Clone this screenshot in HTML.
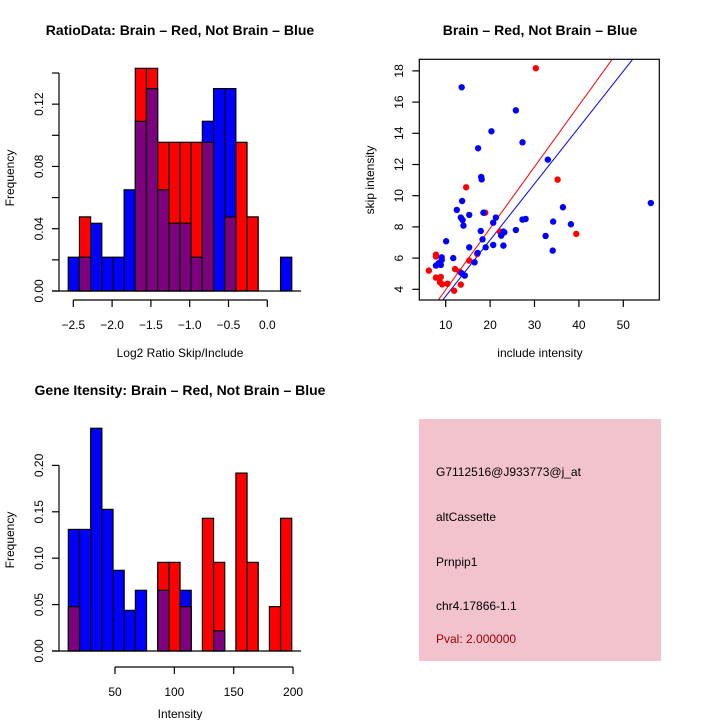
<!DOCTYPE html>
<html><head><meta charset="utf-8"><style>
html,body{margin:0;padding:0;background:#fff;}
svg{display:block;font-family:"Liberation Sans",sans-serif;}
</style></head><body>
<svg id="c" width="720" height="720" viewBox="0 0 720 720">
<rect width="720" height="720" fill="#fff"/>
<g id="h1"></g>
<g id="sc"></g>
<g id="h2"></g>
<g>
<rect x="419" y="419" width="242" height="242" fill="#f2c2cd"/>
<text x="436" y="476" font-size="12" fill="#000">G7112516@J933773@j_at</text>
<text x="436" y="521" font-size="12" fill="#000">altCassette</text>
<text x="436" y="566" font-size="12" fill="#000">Prnpip1</text>
<text x="436" y="610" font-size="12" fill="#000">chr4.17866-1.1</text>
<text x="436" y="643" font-size="12" fill="#a00000">Pval: 2.000000</text>
</g>
</svg>
<script>
// Histogram 1: Log2 ratio
const h1Start = -2.565, h1Width = 0.144;
const h1Blue = [0.0217,0.0217,0.0435,0.0217,0.0217,0.065,0.109,0.130,0.065,0.0435,0.0435,0.0217,0.109,0.130,0.130,0,0,0,0,0.0217];
const h1Red  = [0,0.0476,0,0,0,0,0.143,0.143,0.0955,0.0955,0.0955,0.0955,0.0955,0,0.0476,0.0955,0.0476,0,0,0];
const h1XTicks = [-2.5,-2.0,-1.5,-1.0,-0.5,0.0];
const h1XLabels = ["\u22122.5","\u22122.0","\u22121.5","\u22121.0","\u22120.5","0.0"];
const h1YTicks = [0,0.02,0.04,0.06,0.08,0.10,0.12,0.14];
const h1YLabels = ["0.00","","0.04","","0.08","","0.12",""];
// Histogram 2: intensity
const h2Start = 10.7, h2Width = 9.41;
const h2Blue = [0.131,0.131,0.24,0.1526,0.0869,0.0438,0.0654,0,0.0654,0,0.0654,0,0,0.0217,0,0,0,0,0,0];
const h2Red  = [0.0478,0,0,0,0,0,0,0,0.0955,0.0955,0.0478,0,0.143,0.0955,0,0.1917,0.0955,0,0.0478,0.143];
const h2XTicks = [50,100,150,200];
const h2XLabels = ["50","100","150","200"];
const h2YTicks = [0,0.05,0.10,0.15,0.20];
const h2YLabels = ["0.00","0.05","0.10","0.15","0.20"];
// Scatter
const blueX = [13.6,25.8,20.3,27.3,17.3,33.0,18.0,18.1,13.7,56.2,12.5,36.4,15.3,18.5,13.4,13.8,14.0,21.3,20.7,27.3,28.0,34.2,38.2,17.9,25.8,23.0,22.5,23.2,18.3,32.5,10.1,15.3,19.0,20.7,23.0,34.1,11.7,9.1,9.1,8.4,7.8,8.9,17.2,16.5,13.6,14.3];
const blueY = [16.95,15.47,14.13,13.42,13.04,12.31,11.2,11.05,9.66,9.53,9.09,9.26,8.77,8.91,8.6,8.44,8.08,8.6,8.27,8.47,8.51,8.34,8.17,7.74,7.8,7.7,7.44,7.65,7.2,7.42,7.08,6.69,6.69,6.84,6.8,6.48,6.0,6.05,5.88,5.67,5.52,5.56,6.33,5.73,5.03,4.88];
const redX = [30.3,35.2,14.6,18.9,39.4,22.2,7.8,7.8,6.2,15.3,17.1,12.1,13.1,7.8,8.9,8.7,9.2,10.4,13.4,11.9];
const redY = [18.17,11.03,10.54,8.91,7.55,7.7,6.22,6.1,5.2,5.84,6.26,5.3,5.13,4.75,4.79,4.45,4.32,4.36,4.3,3.91];
const fitSlopes = [0.394,0.3606];
const fitIntercepts = [0.03,-0.05];
const fitColors = ["#ff0000","#0000ff"];
const scXTicks = [10,20,30,40,50];
const scYTicks = [4,6,8,10,12,14,16,18];

const NS="http://www.w3.org/2000/svg";
function mk(p,t,a){const e=document.createElementNS(NS,t);for(const k in a)e.setAttribute(k,a[k]);p.appendChild(e);return e;}

function hist(g,o){
  const sx=v=>o.x0+(v-o.v0)*o.kx, sy=v=>o.y0-v*o.ky;
  for(let i=0;i<o.blue.length;i++){
    const a=o.start+i*o.width, b=a+o.width;
    const bl=o.blue[i], rd=o.red[i];
    const mx=Math.max(bl,rd), mn=Math.min(bl,rd);
    if(mx>0){
      const r=mk(g,'rect',{x:sx(a),y:sy(mx),width:sx(b)-sx(a),height:sy(0)-sy(mx),fill:bl>=rd?'#0000ff':'#ff0000',stroke:'#000','stroke-width':1.2});
      
      
    }
    if(mn>0){
      const r=mk(g,'rect',{x:sx(a),y:sy(mn),width:sx(b)-sx(a),height:sy(0)-sy(mn),fill:'#7f007f',stroke:'#000','stroke-width':1.2});
      
      
    }
  }
  mk(g,'line',{x1:52,x2:301,y1:o.y0,y2:o.y0,stroke:'#000','stroke-width':1.3});
  // y axis
  const yt=o.yTicks;
  mk(g,'line',{x1:59,x2:59,y1:sy(yt[0]),y2:sy(yt[yt.length-1]),stroke:'#000','stroke-width':1.2});
  yt.forEach((v,i)=>{
    mk(g,'line',{x1:52,x2:59,y1:sy(v),y2:sy(v),stroke:'#000','stroke-width':1.2});
    if(o.yLabels[i]){const t=mk(g,'text',{x:0,y:0,'font-size':12,'text-anchor':'middle',transform:`translate(43,${sy(v)}) rotate(-90)`});t.textContent=o.yLabels[i];
      }
  });
  const xt=o.xTicks;
  mk(g,'line',{x1:sx(xt[0]),x2:sx(xt[xt.length-1]),y1:o.ax,y2:o.ax,stroke:'#000','stroke-width':1.2});
  xt.forEach((v,i)=>{
    mk(g,'line',{x1:sx(v),x2:sx(v),y1:o.ax,y2:o.ax+7,stroke:'#000','stroke-width':1.2});
    const t=mk(g,'text',{x:sx(v),y:o.ax+29,'font-size':12,'text-anchor':'middle'});t.textContent=o.xLabels[i];
    
  });
  let t=mk(g,'text',{x:180,y:o.titleY,'font-size':14,'font-weight':'bold','text-anchor':'middle'});t.textContent=o.title;
  
  t=mk(g,'text',{x:180,y:o.xlabY,'font-size':12,'text-anchor':'middle'});t.textContent=o.xlab;
  
  t=mk(g,'text',{x:0,y:0,'font-size':12,'text-anchor':'middle',transform:`translate(14,${o.yLabCy}) rotate(-90)`});t.textContent='Frequency';
  
}

hist(document.getElementById('h1'),{start:h1Start,width:h1Width,blue:h1Blue,red:h1Red,x0:73.3,v0:-2.5,kx:77.6,y0:291,ky:1557,ax:300,
  xTicks:h1XTicks,xLabels:h1XLabels,yTicks:h1YTicks,yLabels:h1YLabels,title:'RatioData: Brain \u2013 Red, Not Brain \u2013 Blue',titleY:35,xlab:'Log2 Ratio Skip/Include',xlabY:357,yLabCy:178});
hist(document.getElementById('h2'),{start:h2Start,width:h2Width,blue:h2Blue,red:h2Red,x0:115,v0:50,kx:1.187,y0:651,ky:928,ax:667,
  xTicks:h2XTicks,xLabels:h2XLabels,yTicks:h2YTicks,yLabels:h2YLabels,title:'Gene Itensity: Brain \u2013 Red, Not Brain \u2013 Blue',titleY:395,xlab:'Intensity',xlabY:718,yLabCy:540});

(function(){
  const g=document.getElementById('sc');
  const L=419.3,R=659.3,T=59.3,B=300;
  const sx=v=>445.7+(v-10)*4.44, sy=v=>289.3-(v-4)*15.6;
  const defs=mk(g,'defs',{});const cp=mk(defs,'clipPath',{id:'scclip'});mk(cp,'rect',{x:L,y:T,width:R-L,height:B-T});
  const inner=mk(g,'g',{'clip-path':'url(#scclip)'});
  fitSlopes.forEach((s,i)=>{
    const x1=0,x2=70;
    const l=mk(inner,'line',{x1:sx(x1),y1:sy(fitIntercepts[i]+s*x1),x2:sx(x2),y2:sy(fitIntercepts[i]+s*x2),stroke:fitColors[i],'stroke-width':1});
    
    
  });
  redX.forEach((x,i)=>{const c=mk(inner,'circle',{cx:sx(x),cy:sy(redY[i]),r:3.2,fill:'#ff0000'});
    });
  blueX.forEach((x,i)=>{const c=mk(inner,'circle',{cx:sx(x),cy:sy(blueY[i]),r:3.2,fill:'#0000ff'});
    });
  mk(g,'rect',{x:L,y:T,width:R-L,height:B-T,fill:'none',stroke:'#000','stroke-width':1.2});
  scXTicks.forEach(v=>{
    mk(g,'line',{x1:sx(v),x2:sx(v),y1:B,y2:B+7,stroke:'#000','stroke-width':1.2});
    const t=mk(g,'text',{x:sx(v),y:B+29,'font-size':12,'text-anchor':'middle'});t.textContent=v;
    
  });
  scYTicks.forEach(v=>{
    mk(g,'line',{x1:L-7,x2:L,y1:sy(v),y2:sy(v),stroke:'#000','stroke-width':1.2});
    const t=mk(g,'text',{x:0,y:0,'font-size':12,'text-anchor':'middle',transform:`translate(403,${sy(v)}) rotate(-90)`});t.textContent=v;
    
  });
  let t=mk(g,'text',{x:540,y:35,'font-size':14,'font-weight':'bold','text-anchor':'middle'});t.textContent='Brain \u2013 Red, Not Brain \u2013 Blue';
  
  t=mk(g,'text',{x:540,y:357,'font-size':12,'text-anchor':'middle'});t.textContent='include intensity';
  
  t=mk(g,'text',{x:0,y:0,'font-size':12,'text-anchor':'middle',transform:'translate(374,180) rotate(-90)'});t.textContent='skip intensity';
  
})();
</script>
</body></html>
